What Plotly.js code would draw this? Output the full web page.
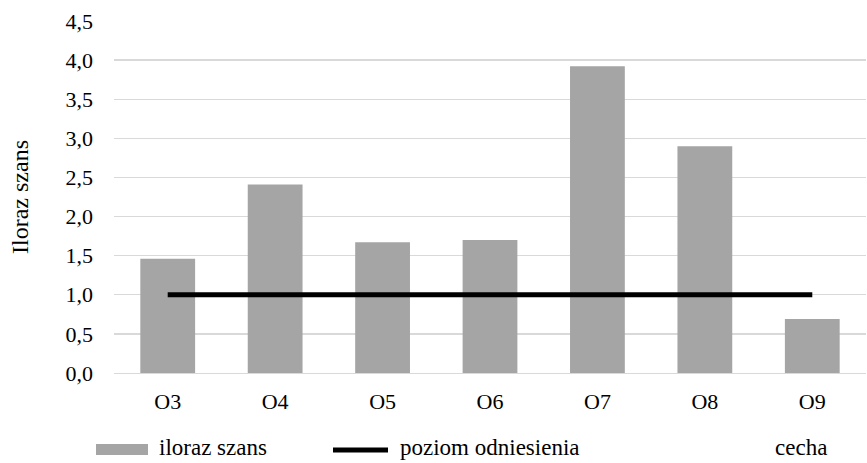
<!DOCTYPE html>
<html>
<head>
<meta charset="utf-8">
<script src="https://cdn.plot.ly/plotly-3.0.1.min.js"></script>
<style>html,body{margin:0;padding:0;background:#fff;}#chart{width:867px;height:463px;}</style>
</head>
<body>
<div id="chart"></div>
<script>
const categories = ['O3', 'O4', 'O5', 'O6', 'O7', 'O8', 'O9'];
const odds = [1.46, 2.41, 1.67, 1.70, 3.92, 2.90, 0.69];
const reference = [1, 1, 1, 1, 1, 1, 1];
const yTickVals = [0, 0.5, 1, 1.5, 2, 2.5, 3, 3.5, 4, 4.5];
const yTickText = ['0,0', '0,5', '1,0', '1,5', '2,0', '2,5', '3,0', '3,5', '4,0', '4,5'];
const legendNames = ['iloraz szans', 'poziom odniesienia'];
const xAxisName = 'cecha';
const yAxisName = 'Iloraz szans';

const FAMILY = 'Liberation Serif, Times New Roman, serif';
const font = {family: FAMILY, size: 22, color: '#000'};
const legFont = {family: FAMILY, size: 23, color: '#000'};
const titleFont = {family: FAMILY, size: 24, color: '#000'};

const traces = [
  {type: 'bar', name: legendNames[0], x: categories, y: odds,
   marker: {color: '#a5a5a5'}},
  {type: 'scatter', mode: 'lines', name: legendNames[1], x: categories, y: reference,
   line: {color: '#000', width: 5}}
];

// paper-coordinate helpers for the hand-placed legend row
const px = v => (v - 114) / 752;
const py = v => (373 - v) / 352;
const legY = py(447);

const layout = {
  width: 867, height: 463,
  margin: {l: 114, r: 1, t: 21, b: 90},
  paper_bgcolor: '#fff', plot_bgcolor: '#fff',
  font: font,
  bargap: 0.49,
  showlegend: false,
  xaxis: {
    type: 'category', showgrid: false, showline: true, linecolor: '#d9d9d9', linewidth: 1.3,
    ticks: '', ticklabelstandoff: 8, tickfont: font, fixedrange: true
  },
  yaxis: {
    range: [0, 4.5], tickvals: yTickVals, ticktext: yTickText,
    showgrid: true, gridcolor: '#d9d9d9', gridwidth: 1.3, zeroline: false,
    ticks: '', ticklabelstandoff: 20, tickfont: font,
    title: {text: yAxisName, font: titleFont, standoff: 30}
  },
  shapes: [
    {type: 'rect', xref: 'paper', yref: 'paper',
     x0: px(96), x1: px(148), y0: py(455), y1: py(444),
     fillcolor: '#a5a5a5', line: {width: 0}},
    {type: 'line', xref: 'paper', yref: 'paper',
     x0: px(333), x1: px(388), y0: py(450), y1: py(450),
     line: {color: '#000', width: 5}}
  ],
  annotations: [
    {text: legendNames[0], xref: 'paper', yref: 'paper', x: px(157), y: legY,
     xanchor: 'left', yanchor: 'middle', showarrow: false, font: legFont},
    {text: legendNames[1], xref: 'paper', yref: 'paper', x: px(398), y: legY,
     xanchor: 'left', yanchor: 'middle', showarrow: false, font: legFont},
    {text: xAxisName, xref: 'paper', yref: 'paper', x: px(801), y: legY,
     xanchor: 'center', yanchor: 'middle', showarrow: false, font: legFont}
  ]
};

Plotly.newPlot('chart', traces, layout, {displayModeBar: false, staticPlot: true});
</script>
</body>
</html>
